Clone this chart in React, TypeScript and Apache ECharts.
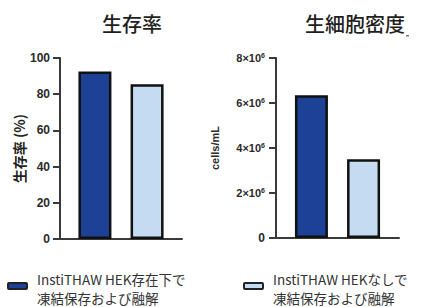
import React, { useEffect, useRef } from "react";
import * as echarts from "echarts";

const titles = ["生存率", "生細胞密度"];
const seriesNames = ["InstiTHAW HEK存在下で 凍結保存および融解", "InstiTHAW HEKなしで 凍結保存および融解"];
const legendLines = [
  ["InstiTHAW HEK存在下で", "凍結保存および融解"],
  ["InstiTHAW HEKなしで", "凍結保存および融解"],
];
const viability = [92.5, 85.5];
const density = [6.35e6, 3.5e6];
const yNames = ["生存率 (%)", "cells/mL"];
const colors = ["#1c4196", "#c5dbf1"];

const CJK = "'Noto Sans CJK JP', 'Noto Sans', sans-serif";
const NUM = "'Liberation Sans', Arial, sans-serif";

export default function App() {
  const ref = useRef<HTMLDivElement>(null);
  useEffect(() => {
    if (!ref.current) return;
    const chart = echarts.init(ref.current, null, { renderer: "svg" });
    const axisLine = { show: true, lineStyle: { color: "#3a3a3a", width: 2 } };
    const barCommon = {
      type: "bar",
      barWidth: 33,
      barGap: "58%",
      itemStyle: { borderColor: "#111", borderWidth: 2.5 },
    };
    const legendItems: any[] = [];
    const legendX = [7, 243];
    seriesNames.forEach((n, i) => {
      legendItems.push({
        type: "rect",
        left: legendX[i],
        top: 282,
        shape: { width: 19, height: 6, r: 1 },
        style: { fill: colors[i], stroke: "#222", lineWidth: 2 },
      });
      legendLines[i].forEach((line, j) => {
        legendItems.push({
          type: "text",
          left: legendX[i] + 30,
          top: 272 + j * 19.5,
          style: {
            text: line,
            font: `13.5px ${CJK}`,
            fill: "#333",
          },
        });
      });
    });
    chart.setOption({
      animation: false,
      title: [
        {
          text: titles[0],
          left: 127,
          top: 8,
          textAlign: "center",
          textStyle: { fontFamily: CJK, fontSize: 20, fontWeight: 500, color: "#231f20" },
        },
        {
          text: titles[1],
          left: 350,
          top: 8,
          textAlign: "center",
          textStyle: { fontFamily: CJK, fontSize: 20, fontWeight: 500, color: "#231f20" },
        },
      ],
      grid: [
        { left: 60, top: 58, width: 122, height: 181 },
        { left: 276, top: 58, width: 123, height: 180 },
      ],
      xAxis: [
        { type: "category", gridIndex: 0, data: [""], axisLine, axisTick: { show: false }, axisLabel: { show: false } },
        { type: "category", gridIndex: 1, data: [""], axisLine, axisTick: { show: false }, axisLabel: { show: false } },
      ],
      yAxis: [
        {
          type: "value",
          gridIndex: 0,
          min: 0,
          max: 100,
          interval: 20,
          name: yNames[0],
          nameLocation: "middle",
          nameGap: 33,
          nameTextStyle: { fontFamily: CJK, fontSize: 14, fontWeight: "bold", color: "#231f20" },
          axisLine,
          axisTick: { show: true, length: 7, lineStyle: { color: "#3a3a3a", width: 2 } },
          axisLabel: { fontFamily: NUM, fontSize: 12, fontWeight: "bold", color: "#2a2a2a", margin: 10 },
          splitLine: { show: false },
        },
        {
          type: "value",
          gridIndex: 1,
          min: 0,
          max: 8e6,
          interval: 2e6,
          name: yNames[1],
          nameLocation: "middle",
          nameGap: 56,
          nameTextStyle: { fontFamily: NUM, fontSize: 11, fontWeight: "bold", color: "#2a2a2a" },
          axisLine,
          axisTick: { show: true, length: 7, lineStyle: { color: "#3a3a3a", width: 2 } },
          axisLabel: {
            margin: 11,
            formatter: (v: number) => (v === 0 ? "{c|0}" : `{a|${v / 1e6}×10}{b|6}`),
            rich: {
              a: { fontFamily: NUM, fontSize: 11, fontWeight: "bold", color: "#2a2a2a" },
              c: { fontFamily: NUM, fontSize: 12, fontWeight: "bold", color: "#2a2a2a" },
              b: { fontFamily: NUM, fontSize: 7, fontWeight: "bold", color: "#2a2a2a", verticalAlign: "top", padding: [0, 0, 6, 0] },
            },
          },
          splitLine: { show: false },
        },
      ],
      series: [
        { ...barCommon, name: seriesNames[0], xAxisIndex: 0, yAxisIndex: 0, data: [viability[0]], itemStyle: { ...barCommon.itemStyle, color: colors[0] } },
        { ...barCommon, name: seriesNames[1], xAxisIndex: 0, yAxisIndex: 0, data: [viability[1]], itemStyle: { ...barCommon.itemStyle, color: colors[1] } },
        { ...barCommon, name: seriesNames[0], xAxisIndex: 1, yAxisIndex: 1, data: [density[0]], itemStyle: { ...barCommon.itemStyle, color: colors[0] } },
        { ...barCommon, name: seriesNames[1], xAxisIndex: 1, yAxisIndex: 1, data: [density[1]], itemStyle: { ...barCommon.itemStyle, color: colors[1] } },
      ],
      graphic: [
        ...legendItems,
        { type: "rect", left: 406, top: 35, shape: { width: 3, height: 1.5 }, style: { fill: "#777" } },
      ],
    });
    return () => chart.dispose();
  }, []);
  return <div ref={ref} style={{ width: 444, height: 307, position: "absolute", left: 0, top: 0 }} />;
}
